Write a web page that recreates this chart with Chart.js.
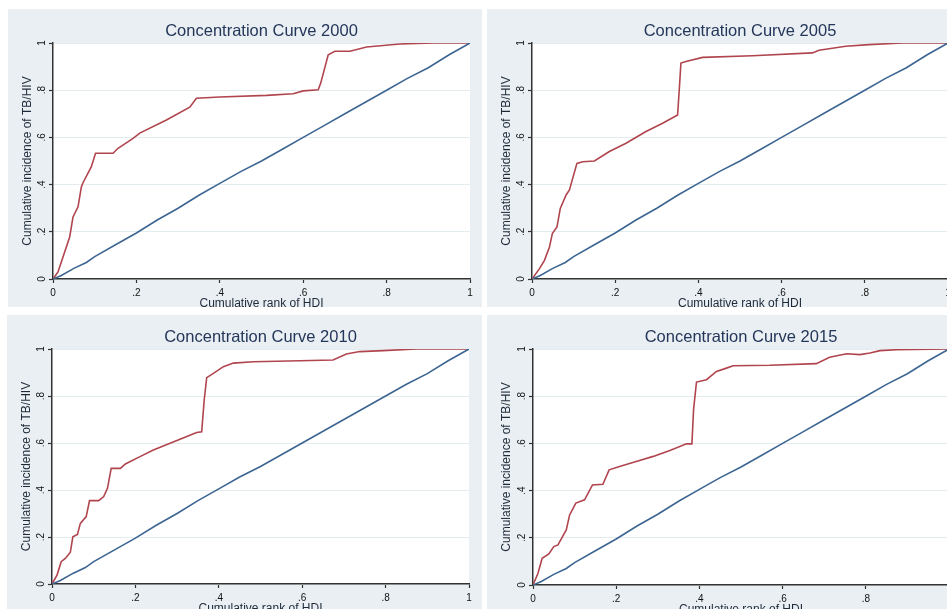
<!DOCTYPE html>
<html>
<head>
<meta charset="utf-8">
<script src="https://cdn.jsdelivr.net/npm/chart.js@4.4.0/dist/chart.umd.min.js"></script>
<style>
  html, body { margin: 0; padding: 0; background: #ffffff; width: 947px; height: 609px; overflow: hidden; }
  .panel { position: absolute; background: #e9eff2; }
  canvas { display: block; }
</style>
</head>
<body>
<div class="panel" id="p1" style="left:8px;top:9px;width:474px;height:298px;"><canvas id="c1" width="474" height="298"></canvas></div>
<div class="panel" id="p2" style="left:487px;top:9px;width:474px;height:298px;"><canvas id="c2" width="474" height="298"></canvas></div>
<div class="panel" id="p3" style="left:7px;top:315px;width:475px;height:297px;"><canvas id="c3" width="475" height="297"></canvas></div>
<div class="panel" id="p4" style="left:487px;top:315px;width:474px;height:298px;"><canvas id="c4" width="474" height="298"></canvas></div>
<script>
// ---- tick labels and titles ----
const tickLabels = ['0', '.2', '.4', '.6', '.8', '1'];
const titles = ['Concentration Curve 2000', 'Concentration Curve 2005', 'Concentration Curve 2010', 'Concentration Curve 2015'];
const xTitle = 'Cumulative rank of HDI';
const yTitle = 'Cumulative incidence of TB/HIV';

// ---- 2000 ----
const rank2000 = [0, 0.012, 0.04, 0.048, 0.06, 0.068, 0.072, 0.092, 0.102, 0.144, 0.156, 0.192, 0.208, 0.272, 0.328, 0.344, 0.4, 0.512, 0.576, 0.6, 0.636, 0.642, 0.66, 0.676, 0.712, 0.752, 0.832, 0.912, 1];
const tbhiv2000 = [0, 0.03, 0.178, 0.263, 0.306, 0.39, 0.408, 0.476, 0.533, 0.533, 0.554, 0.596, 0.618, 0.674, 0.728, 0.766, 0.771, 0.778, 0.785, 0.797, 0.802, 0.83, 0.95, 0.965, 0.965, 0.983, 0.996, 1, 1];
// ---- 2005 ----
const rank2005 = [0, 0.018, 0.03, 0.042, 0.049, 0.06, 0.068, 0.082, 0.09, 0.108, 0.122, 0.15, 0.186, 0.226, 0.274, 0.314, 0.35, 0.354, 0.358, 0.37, 0.41, 0.53, 0.674, 0.69, 0.754, 0.81, 0.89, 1];
const tbhiv2005 = [0, 0.044, 0.079, 0.136, 0.193, 0.221, 0.299, 0.356, 0.377, 0.49, 0.497, 0.5, 0.54, 0.575, 0.625, 0.66, 0.695, 0.802, 0.915, 0.922, 0.939, 0.946, 0.958, 0.969, 0.986, 0.993, 1, 1];
// ---- 2010 ----
const rank2010 = [0, 0.012, 0.022, 0.032, 0.044, 0.05, 0.061, 0.068, 0.082, 0.09, 0.112, 0.124, 0.133, 0.142, 0.164, 0.176, 0.211, 0.243, 0.307, 0.347, 0.359, 0.365, 0.371, 0.387, 0.411, 0.435, 0.483, 0.595, 0.674, 0.706, 0.738, 0.794, 0.874, 1];
const tbhiv2010 = [0, 0.038, 0.095, 0.109, 0.135, 0.201, 0.211, 0.258, 0.287, 0.355, 0.355, 0.372, 0.407, 0.492, 0.492, 0.511, 0.542, 0.57, 0.616, 0.645, 0.648, 0.783, 0.878, 0.896, 0.925, 0.94, 0.946, 0.95, 0.953, 0.979, 0.989, 0.993, 1, 1];
// ---- 2015 ----
const rank2015 = [0, 0.012, 0.022, 0.038, 0.05, 0.06, 0.08, 0.088, 0.103, 0.124, 0.143, 0.168, 0.183, 0.208, 0.248, 0.289, 0.329, 0.369, 0.382, 0.386, 0.393, 0.417, 0.441, 0.465, 0.481, 0.569, 0.681, 0.713, 0.754, 0.786, 0.81, 0.834, 0.874, 1];
const tbhiv2015 = [0, 0.05, 0.113, 0.132, 0.163, 0.17, 0.233, 0.297, 0.347, 0.361, 0.424, 0.427, 0.488, 0.502, 0.523, 0.545, 0.57, 0.598, 0.598, 0.743, 0.86, 0.87, 0.905, 0.919, 0.929, 0.931, 0.938, 0.965, 0.98, 0.976, 0.983, 0.993, 0.997, 1];
// ---- equality (population) line ----
const popRank = [0, 0.02, 0.05, 0.08, 0.1, 0.15, 0.2, 0.25, 0.3, 0.35, 0.4, 0.45, 0.5, 0.55, 0.6, 0.65, 0.7, 0.75, 0.8, 0.85, 0.9, 0.95, 1];
const popShare = [0, 0.015, 0.045, 0.07, 0.095, 0.145, 0.195, 0.25, 0.3, 0.355, 0.405, 0.455, 0.5, 0.55, 0.6, 0.65, 0.7, 0.75, 0.8, 0.85, 0.895, 0.95, 1];

const RED = '#b0454e';
const BLUE = '#3c6592';
const FONT = "'Liberation Sans', Arial, sans-serif";

const whiteArea = {
  id: 'whiteArea',
  beforeDraw(chart) {
    const a = chart.chartArea, ctx = chart.ctx;
    ctx.save();
    ctx.fillStyle = '#ffffff';
    ctx.fillRect(a.left, a.top, a.right - a.left, a.bottom - a.top);
    ctx.restore();
  }
};

function pts(xs, ys) { return xs.map((x, i) => ({ x: x, y: ys[i] })); }

function makeChart(id, title, xs, ys, yAxisW, xAxisH, padRight) {
  return new Chart(document.getElementById(id), {
    type: 'scatter',
    data: {
      datasets: [
        { data: pts(popRank, popShare), showLine: true, borderColor: BLUE, borderWidth: 1.6, pointRadius: 0, tension: 0 },
        { data: pts(xs, ys), showLine: true, borderColor: RED, borderWidth: 1.6, pointRadius: 0, tension: 0 }
      ]
    },
    options: {
      responsive: false,
      animation: false,
      devicePixelRatio: 1,
      layout: { padding: { left: 0, right: padRight, top: 0, bottom: 0 } },
      plugins: {
        legend: { display: false },
        tooltip: { enabled: false },
        title: {
          display: true, text: title, fullSize: false, color: '#24365a',
          font: { family: FONT, size: 16.5, weight: 'normal', lineHeight: 1.2 },
          padding: { top: 12.1, bottom: 2.1 }
        }
      },
      scales: {
        x: {
          type: 'linear', min: 0, max: 1,
          afterFit(s) { s.height = xAxisH; },
          border: { display: true, color: '#333333', width: 1.5 },
          grid: { drawOnChartArea: false, drawTicks: true, tickLength: 4, tickColor: '#333333', tickWidth: 1.2 },
          ticks: { stepSize: 0.2, autoSkip: false, maxRotation: 0, minRotation: 0, padding: 4, color: '#111111',
                   font: { family: FONT, size: 10 }, callback: (v, i) => tickLabels[i] },
          title: { display: true, text: xTitle, color: '#1e2a3a', font: { family: FONT, size: 12, lineHeight: 1 }, padding: { top: 0, bottom: -3 } }
        },
        y: {
          type: 'linear', min: 0, max: 1,
          afterFit(s) { s.width = yAxisW; },
          border: { display: true, color: '#333333', width: 1.5 },
          grid: { drawOnChartArea: true, color: '#e3ecef', lineWidth: 1, drawTicks: true, tickLength: 4, tickColor: '#333333', tickWidth: 1.2 },
          ticks: { stepSize: 0.2, autoSkip: false, minRotation: 90, maxRotation: 90, crossAlign: 'center', padding: 3, color: '#111111',
                   font: { family: FONT, size: 10 }, callback: (v, i) => tickLabels[i] },
          title: { display: true, text: yTitle, color: '#1e2a3a', font: { family: FONT, size: 12, lineHeight: 1.2 }, padding: { top: 12.8, bottom: 0 } }
        }
      }
    },
    plugins: [whiteArea]
  });
}

makeChart('c1', titles[0], rank2000, tbhiv2000, 45, 28, 12);
makeChart('c2', titles[1], rank2005, tbhiv2005, 45, 28, 13);
makeChart('c3', titles[2], rank2010, tbhiv2010, 45, 28, 13);
makeChart('c4', titles[3], rank2015, tbhiv2015, 46, 28, 12);
</script>
</body>
</html>
